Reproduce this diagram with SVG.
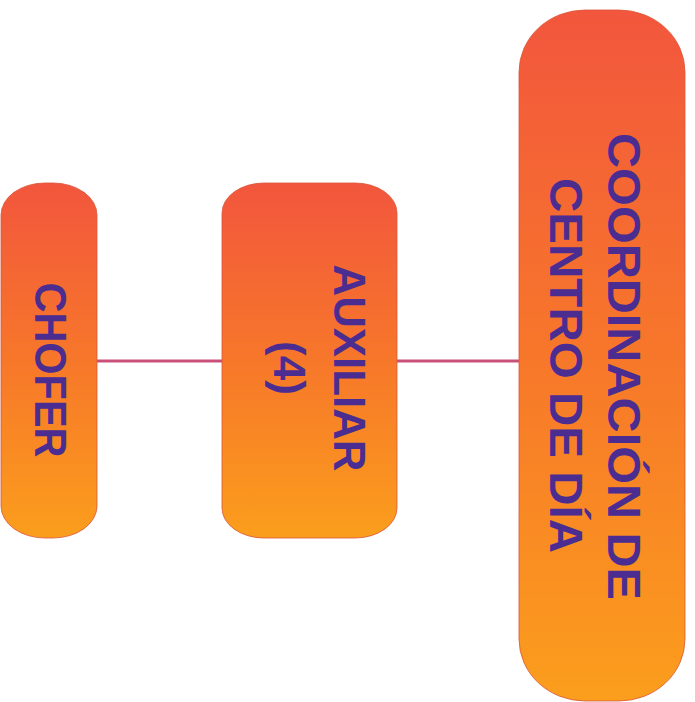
<svg xmlns="http://www.w3.org/2000/svg" width="695" height="702" viewBox="0 0 695 702">
  <defs>
    <linearGradient id="g" x1="0" y1="0" x2="0" y2="1">
      <stop offset="0" stop-color="#f2563d"/>
      <stop offset="0.5" stop-color="#f7772a"/>
      <stop offset="1" stop-color="#fb9e1c"/>
    </linearGradient>
  </defs>
  <style>
    .box { fill: url(#g); stroke: #d9553a; stroke-width: 0.8; }
    .lbl { font-family: "Liberation Sans", Arial, sans-serif; font-weight: bold; fill: #4b2d91; text-anchor: middle; }
    .conn { stroke: #c9507a; stroke-width: 3; fill: none; }
  </style>
  <rect width="695" height="702" fill="#ffffff"/>
  <g id="connectors">
    <line class="conn" x1="96" y1="361" x2="223" y2="361"/>
    <line class="conn" x1="396" y1="361" x2="520" y2="361"/>
  </g>
  <g id="chofer">
    <rect class="box" x="1" y="183" width="96" height="355" rx="44" ry="32"/>
    <text class="lbl" font-size="44" textLength="175" lengthAdjust="spacingAndGlyphs" transform="translate(35,370) rotate(90)">CHOFER</text>
  </g>
  <g id="auxiliar">
    <rect class="box" x="222" y="183" width="175" height="355" rx="42" ry="30"/>
    <text class="lbl" font-size="44" textLength="207" lengthAdjust="spacingAndGlyphs" transform="translate(334,368) rotate(90)">AUXILIAR</text>
    <text class="lbl" font-size="44" transform="translate(274,368) rotate(90)">(4)</text>
  </g>
  <g id="coordinacion">
    <rect class="box" x="519" y="10" width="166" height="691" rx="66" ry="62"/>
    <text class="lbl" font-size="47" textLength="467" lengthAdjust="spacingAndGlyphs" transform="translate(608,366.5) rotate(90)">COORDINACIÓN DE</text>
    <text class="lbl" font-size="47" textLength="375" lengthAdjust="spacingAndGlyphs" transform="translate(550,365.5) rotate(90)">CENTRO DE DÍA</text>
  </g>
</svg>
